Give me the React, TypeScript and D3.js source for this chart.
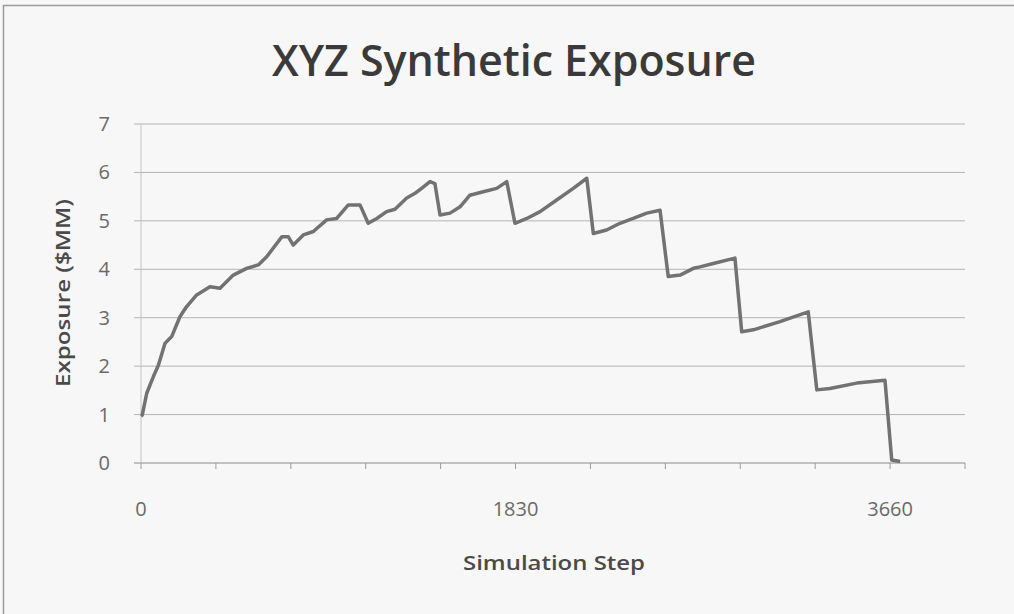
import React, { useEffect, useRef } from 'react';
import * as d3 from 'd3';

// simulation step and exposure ($MM)
const steps = [0, 6, 28, 60, 85, 117, 150, 190, 223, 272, 337, 386, 451, 516, 573, 614, 688, 720, 744, 793, 842, 907, 956, 1013, 1070, 1110, 1152, 1200, 1241, 1298, 1339, 1371, 1412, 1436, 1461, 1510, 1559, 1607, 1672, 1738, 1787, 1827, 1885, 1950, 2031, 2112, 2178, 2210, 2275, 2340, 2405, 2471, 2536, 2576, 2634, 2699, 2731, 2796, 2902, 2935, 2992, 3122, 3260, 3302, 3366, 3497, 3635, 3668, 3709];
const exposure = [0.97, 0.99, 1.44, 1.78, 2.02, 2.47, 2.61, 3.02, 3.23, 3.47, 3.64, 3.61, 3.88, 4.02, 4.09, 4.26, 4.67, 4.67, 4.50, 4.71, 4.78, 5.02, 5.05, 5.33, 5.33, 4.95, 5.05, 5.19, 5.24, 5.47, 5.57, 5.67, 5.81, 5.77, 5.12, 5.16, 5.29, 5.53, 5.60, 5.67, 5.81, 4.95, 5.05, 5.19, 5.43, 5.67, 5.88, 4.74, 4.81, 4.95, 5.05, 5.16, 5.22, 3.85, 3.88, 4.02, 4.05, 4.12, 4.23, 2.71, 2.75, 2.92, 3.12, 1.51, 1.54, 1.65, 1.71, 0.06, 0.03];

const yTicks = [0, 1, 2, 3, 4, 5, 6, 7];
const xLabels = [0, 1830, 3660];
const xTickStep = 366;
const xMax = 4026;

const App: React.FC = () => {
	const svgRef = useRef<SVGSVGElement>(null);

	useEffect(() => {
		if (svgRef.current == null) return;
		const width = 1014;
		const height = 614;
		const svg = d3.select(svgRef.current);
		svg.selectAll('*').remove();

		const x = d3.scaleLinear().domain([0, xMax]).range([141, 965]);
		const y = d3.scaleLinear().domain([0, 7]).range([463, 124]);

		svg.append('rect')
			.attr('width', width)
			.attr('height', height)
			.attr('fill', '#f7f7f7');
		// chart frame
		svg.append('rect')
			.attr('x', 3.5)
			.attr('y', 5.5)
			.attr('width', 1030)
			.attr('height', 640)
			.attr('fill', 'none')
			.attr('stroke', '#9a9a9a')
			.attr('stroke-width', 1.5);

		svg.append('text')
			.attr('x', 514)
			.attr('y', 76)
			.attr('text-anchor', 'middle')
			.attr('font-family', 'Open Sans')
			.attr('font-weight', 600)
			.attr('font-size', 44)
			.attr('textLength', 484)
			.attr('lengthAdjust', 'spacingAndGlyphs')
			.style('fill', '#3a3a3a')
			.text('XYZ Synthetic Exposure');

		// gridlines
		svg.append('g')
			.selectAll('line')
			.data(yTicks)
			.join('line')
			.attr('x1', x(0) - 7)
			.attr('x2', x(xMax))
			.attr('y1', d => y(d))
			.attr('y2', d => y(d))
			.attr('stroke', d => d === 0 ? '#8a8a8a' : '#b4b4b4')
			.attr('stroke-width', 1);

		svg.append('line')
			.attr('x1', x(0))
			.attr('x2', x(0))
			.attr('y1', y(7))
			.attr('y2', y(0))
			.attr('stroke', '#c4c4c4');

		svg.append('g')
			.selectAll('text')
			.data(yTicks)
			.join('text')
			.attr('x', 110)
			.attr('y', d => y(d))
			.attr('dy', '0.35em')
			.attr('text-anchor', 'end')
			.attr('font-family', 'Open Sans')
			.attr('font-size', 20)
			.style('fill', '#6a6a6a')
			.text(d => d);

		const xTicks = d3.range(0, xMax + 1, xTickStep);
		svg.append('g')
			.selectAll('line')
			.data(xTicks)
			.join('line')
			.attr('x1', d => x(d))
			.attr('x2', d => x(d))
			.attr('y1', y(0))
			.attr('y2', y(0) + 6)
			.attr('stroke', '#9a9a9a');

		svg.append('g')
			.selectAll('text')
			.data(xLabels)
			.join('text')
			.attr('x', d => x(d))
			.attr('y', 516)
			.attr('text-anchor', 'middle')
			.attr('font-family', 'Open Sans')
			.attr('font-size', 20)
			.style('fill', '#6a6a6a')
			.text(d => d);

		svg.append('text')
			.attr('x', 554)
			.attr('y', 570)
			.attr('text-anchor', 'middle')
			.attr('font-family', 'Open Sans')
			.attr('font-weight', 600)
			.attr('font-size', 20)
			.attr('textLength', 182)
			.attr('lengthAdjust', 'spacingAndGlyphs')
			.style('fill', '#4a4a4a')
			.text('Simulation Step');

		svg.append('text')
			.attr('transform', 'translate(70,293) rotate(-90)')
			.attr('text-anchor', 'middle')
			.attr('font-family', 'Open Sans')
			.attr('font-weight', 600)
			.attr('font-size', 20)
			.attr('textLength', 188)
			.attr('lengthAdjust', 'spacingAndGlyphs')
			.style('fill', '#4a4a4a')
			.text('Exposure ($MM)');

		const line = d3.line<number>()
			.x((_, i) => x(steps[i]))
			.y(d => y(d));

		svg.append('path')
			.datum(exposure)
			.attr('d', line)
			.attr('fill', 'none')
			.attr('stroke', '#727272')
			.attr('stroke-width', 3.5)
			.attr('stroke-linejoin', 'round');
	}, []);

	return <svg ref={svgRef} width={1014} height={614} style={{ position: 'absolute', left: 0, top: 0 }}></svg>;
};

export default App;
